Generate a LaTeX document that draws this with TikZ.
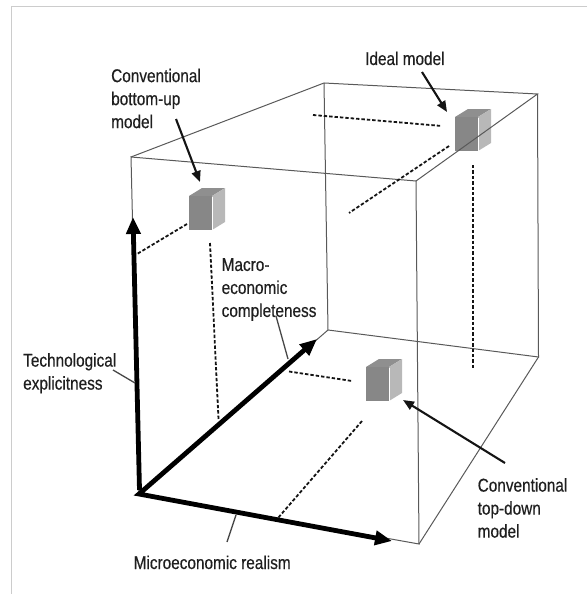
\documentclass[tikz,border=0pt]{standalone}
\usepackage{fontspec}
\setmainfont[FakeStretch=0.83,FakeBold=0.4]{Liberation Sans}
\usetikzlibrary{arrows.meta,calc}
\tikzset{
  mcube/.pic={
    \fill[black!44] (0,0) -- (13,-8) -- (36,-8) -- (23,0) -- cycle;
    \fill[black!47] (0,0) rectangle (23,34);
    \fill[black!28] (23,0) -- (36,-8) -- (36,26) -- (23,34) -- cycle;
    \draw[white, line width=1.3pt] (23.7,0.5) -- (23.7,34);
  }
}
\begin{document}
\begin{tikzpicture}[x=1pt,y=-1pt,
  edge/.style={line width=1pt, draw=black!65},
  proj/.style={line width=1.8pt, draw=black!92, dash pattern=on 3.4pt off 2pt},
  axis/.style={line width=4.8pt, line join=miter, draw=black},
  pointer/.style={line width=2.1pt, draw=black!92, -{Triangle[length=11pt,width=9pt]}},
  leader/.style={line width=1.3pt, draw=black!72},
  lab/.style={inner sep=0pt, align=left, text=black!88, font=\fontsize{18.5}{23}\selectfont},
  frame/.style={line width=1pt, draw=black!20}
]
\useasboundingbox (0,0) rectangle (587,594);
\draw[frame] (587,7) -- (11,7) -- (11,594);

% cubes
\pic at (189,196) {mcube};
\pic at (455,117) {mcube};
\pic at (366,367) {mcube};

% box corners
\coordinate (O) at (139,494);
\coordinate (FTL) at (131,157);
\coordinate (FTR) at (416,181);
\coordinate (FBR) at (419,544);
\coordinate (BTL) at (324,83);
\coordinate (BTR) at (537.5,94);
\coordinate (BBL) at (328,330);
\coordinate (BBR) at (538.5,357);

\draw[edge] (FTL) -- (FTR) -- (FBR) -- (O) -- cycle;
\draw[edge] (FTL) -- (BTL) -- (BTR) -- (FTR);
\draw[edge] (BTL) -- (BBL) -- (BBR) -- (BTR);
\draw[edge] (BBL) -- (O);
\draw[edge] (BBR) -- (FBR);

% projection lines
\coordinate (p1a) at (187,224); \coordinate (p1b) at (137,254);
\coordinate (p2a) at (210,243); \coordinate (p2b) at (218.5,419);
\coordinate (p3a) at (313,115); \coordinate (p3b) at (442,126);
\coordinate (p4a) at (449,146); \coordinate (p4b) at (349,213);
\coordinate (p5a) at (473,165); \coordinate (p5b) at (473,370);
\coordinate (p6a) at (289,371.5); \coordinate (p6b) at (352,381);
\coordinate (p7a) at (362,421); \coordinate (p7b) at (278,518);
\draw[proj] (p1a) -- (p1b);
\draw[proj] (p2a) -- (p2b);
\draw[proj] (p3a) -- (p3b);
\draw[proj] (p4a) -- (p4b);
\draw[proj] (p5a) -- (p5b);
\draw[proj] (p6a) -- (p6b);
\draw[proj] (p7a) -- (p7b);

% axes
\coordinate (O2) at (139.5,490);
\coordinate (Ttip) at (133,217);
\coordinate (Mtip) at (317,339);
\coordinate (Rtip) at (392,541);
\draw[axis, -{Triangle[length=17pt,width=14pt]}] (O2) -- (Ttip);
\draw[axis, arrows={Triangle[length=17pt,width=14pt]-Triangle[length=17pt,width=14pt]}] (Mtip) -- (O) -- (Rtip);

% labels
\node[lab, anchor=base west] (ideal) at (365,65) {Ideal model};
\node[lab, anchor=north west] (bu) at (111,68.5) {Conventional\\bottom-up\\model};
\node[lab, anchor=north west] (macro) at (221.5,258) {Macro-\\economic\\completeness};
\node[lab, anchor=north west] (tech) at (23,353) {Technological\\explicitness};
\node[lab, anchor=base west] (micro) at (133.5,569) {Microeconomic realism};
\node[lab, anchor=north west] (td) at (477.5,478) {Conventional\\top-down\\model};

% pointers
\coordinate (q1a) at (176,119); \coordinate (q1b) at (200,182);
\coordinate (q2a) at (422,72); \coordinate (q2b) at (447,112);
\coordinate (q3a) at (505,463); \coordinate (q3b) at (403,400);
\draw[pointer] (q1a) -- (q1b);
\draw[pointer] (q2a) -- (q2b);
\draw[pointer] (q3a) -- (q3b);

% leaders
\coordinate (l1a) at (113,370); \coordinate (l1b) at (135,383);
\coordinate (l2a) at (276,316); \coordinate (l2b) at (288,359);
\coordinate (l3a) at (236,515); \coordinate (l3b) at (227,542);
\draw[leader] (l1a) -- (l1b);
\draw[leader] (l2a) -- (l2b);
\draw[leader] (l3a) -- (l3b);
\end{tikzpicture}
\end{document}
